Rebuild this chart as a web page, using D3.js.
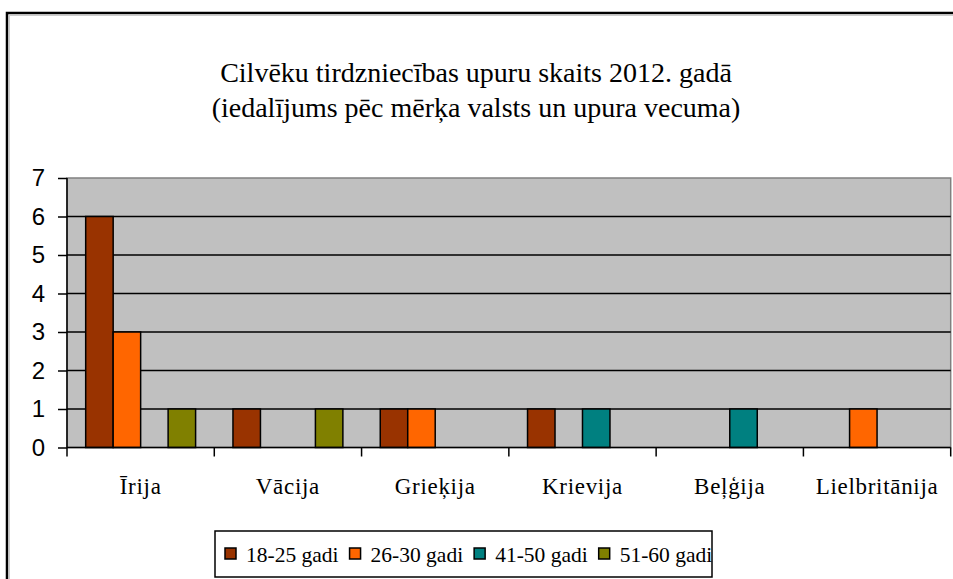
<!DOCTYPE html>
<html>
  <head>
    <meta charset="utf-8">
    <script src="https://d3js.org/d3.v7.min.js"></script>
    <style>
      body { margin: 0; background: #fff; }
      svg { display: block; }
    </style>
  </head>
  <body>
    <svg width="953" height="579"></svg>
    <script>
      var countries = ['Īrija', 'Vācija', 'Grieķija', 'Krievija', 'Beļģija', 'Lielbritānija'];
      var ageGroups = ['18-25 gadi', '26-30 gadi', '41-50 gadi', '51-60 gadi'];
      var colors = ['#993300', '#ff6600', '#008080', '#808000'];
      // one array per age group, values in the order of countries
      var age18to25 = [6, 1, 1, 1, 0, 0];
      var age26to30 = [3, 0, 1, 0, 0, 1];
      var age41to50 = [0, 0, 0, 1, 1, 0];
      var age51to60 = [1, 1, 0, 0, 0, 0];
      var yTicks = [0, 1, 2, 3, 4, 5, 6, 7];
      var titleLines = ['Cilvēku tirdzniecības upuru skaits 2012. gadā',
                        '(iedalījums pēc mērķa valsts un upura vecuma)'];

      var series = [age18to25, age26to30, age41to50, age51to60];

      var svg = d3.select('svg');
      var plotL = 67, plotR = 950.7, plotT = 178, plotB = 447.5;
      var serif = '"Liberation Serif", "Times New Roman", serif';

      // outer chart frame (cut off by the window on the right/bottom)
      svg.append('rect')
        .attr('x', 7).attr('y', 13)
        .attr('width', 960).attr('height', 600)
        .style('fill', 'none').style('stroke', '#000').style('stroke-width', 2.5);
      svg.append('path')
        .attr('d', 'M9,15.5H953M9.5,15V579')
        .style('fill', 'none').style('stroke', '#ccc').style('stroke-width', 1);

      svg.append('g').selectAll('text')
        .data(titleLines)
        .enter().append('text')
        .attr('x', 476).attr('y', function(d, i) { return 82 + i * 35; })
        .attr('text-anchor', 'middle')
        .style('font-family', serif)
        .style('font-size', '28px')
        .text(function(d) { return d; });

      var x = d3.scaleBand().domain(countries).range([plotL, plotR]);
      var xInner = d3.scaleBand().domain(d3.range(ageGroups.length))
        .range([0, x.bandwidth()]).paddingOuter(0.68);
      var y = d3.scaleLinear().domain([0, 7]).range([plotB, plotT]);

      svg.append('rect')
        .attr('x', plotL).attr('y', plotT)
        .attr('width', plotR - plotL).attr('height', plotB - plotT)
        .style('fill', '#c0c0c0').style('stroke', '#808080').style('stroke-width', 1.5);

      svg.append('g').selectAll('line')
        .data(yTicks.filter(function(d) { return d > 0 && d < 7; }))
        .enter().append('line')
        .attr('x1', plotL).attr('x2', plotR)
        .attr('y1', function(d) { return y(d); }).attr('y2', function(d) { return y(d); })
        .style('stroke', '#000').style('stroke-width', 1.5);

      var rows = [];
      countries.forEach(function(c, ci) {
        series.forEach(function(s, si) {
          if (s[ci] > 0) rows.push({ country: c, si: si, value: s[ci] });
        });
      });

      svg.append('g').selectAll('rect')
        .data(rows)
        .enter().append('rect')
        .attr('x', function(d) { return x(d.country) + xInner(d.si); })
        .attr('width', xInner.bandwidth())
        .attr('y', function(d) { return y(d.value); })
        .attr('height', function(d) { return plotB - y(d.value); })
        .style('fill', function(d) { return colors[d.si]; })
        .style('stroke', '#000').style('stroke-width', 1.5);

      var yAxis = svg.append('g')
        .attr('transform', 'translate(' + plotL + ',0)')
        .call(d3.axisLeft(y).tickValues(yTicks).tickFormat(d3.format('d')).tickSize(9).tickPadding(13));
      yAxis.select('.domain').attr('d', 'M0,' + plotT + 'V' + plotB).style('stroke-width', 1.5);
      yAxis.selectAll('line').style('stroke-width', 1.5);
      yAxis.selectAll('text')
        .style('font-family', '"Liberation Sans", Arial, sans-serif')
        .style('font-size', '24px').style('fill', '#000');

      var bounds = countries.map(function(c) { return x(c); }).concat([plotR]);
      var xAxis = svg.append('g');
      xAxis.append('line')
        .attr('x1', plotL).attr('x2', plotR).attr('y1', plotB).attr('y2', plotB)
        .style('stroke', '#000').style('stroke-width', 1.5);
      xAxis.selectAll('line.tick')
        .data(bounds)
        .enter().append('line').attr('class', 'tick')
        .attr('x1', function(d) { return d; }).attr('x2', function(d) { return d; })
        .attr('y1', plotB).attr('y2', plotB + 9)
        .style('stroke', '#000').style('stroke-width', 1.5);
      xAxis.selectAll('text')
        .data(countries)
        .enter().append('text')
        .attr('x', function(d) { return x(d) + x.bandwidth() / 2; })
        .attr('y', 494)
        .attr('text-anchor', 'middle')
        .style('font-family', serif)
        .style('font-size', '23px')
        .style('letter-spacing', '0.7px')
        .text(function(d) { return d; });

      // legend
      var legend = svg.append('g');
      legend.append('rect')
        .attr('x', 215).attr('y', 531).attr('width', 497).attr('height', 46)
        .style('fill', '#fff').style('stroke', '#000').style('stroke-width', 1.5);
      var lx = 225;
      ageGroups.forEach(function(g, i) {
        legend.append('rect')
          .attr('x', lx).attr('y', 548).attr('width', 11).attr('height', 11)
          .style('fill', colors[i]).style('stroke', '#000').style('stroke-width', 1.5);
        var t = legend.append('text')
          .attr('x', lx + 21).attr('y', 562)
          .style('font-family', serif)
          .style('font-size', '21.5px')
          .text(g);
        lx += 21 + t.node().getComputedTextLength() + 11;
      });
    </script>
  </body>
</html>
